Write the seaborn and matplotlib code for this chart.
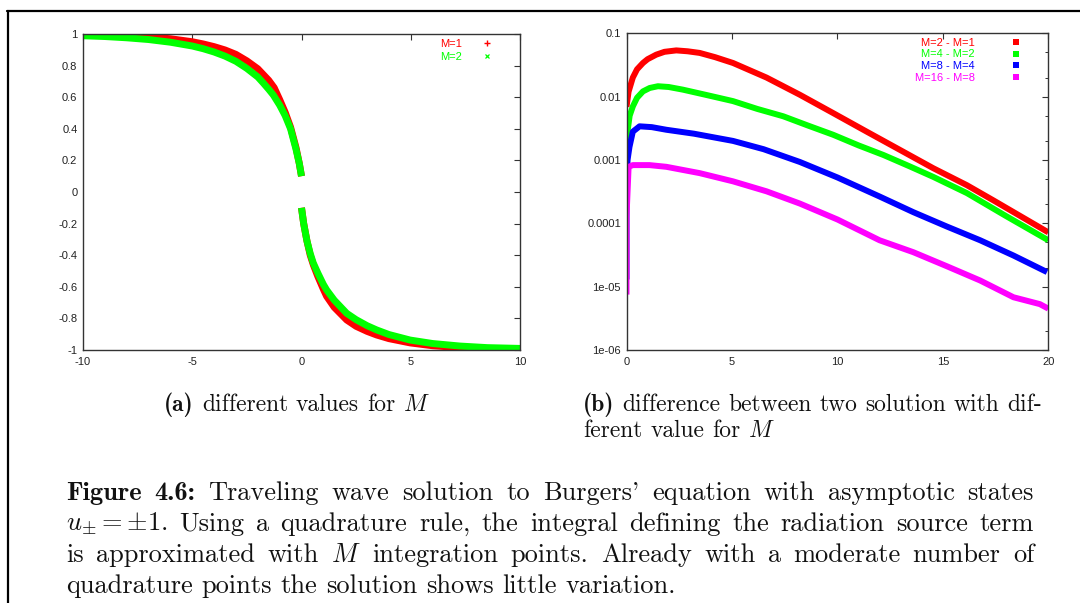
import numpy as np
import pandas as pd
import matplotlib
matplotlib.use("Agg")
import matplotlib.pyplot as plt
from matplotlib.lines import Line2D
from matplotlib import ticker
import seaborn as sns

# ---------------- data ----------------
# (a) traveling wave profiles u(x) for two quadrature sizes (two branches each, gap at x=0)
x_m1_left = [-10, -9, -8, -7, -6, -5, -4.5, -4, -3.5, -3, -2.5, -2, -1.5, -1.25, -1,
             -0.75, -0.5, -0.25, -0.1, 0.0]
u_m1_left = [0.996, 0.993, 0.989, 0.982, 0.970, 0.951, 0.937, 0.920, 0.899, 0.871, 0.830,
             0.780, 0.707, 0.660, 0.585, 0.505, 0.41, 0.28, 0.18, 0.10]
x_m1_right = [0.0, 0.1, 0.25, 0.4, 0.54, 0.75, 1.0, 1.15, 1.5, 2.07, 2.5, 3.0, 3.44, 4.0,
              4.97, 6.0, 7.25, 8.5, 10.0]
u_m1_right = [-0.10, -0.20, -0.31, -0.40, -0.46, -0.535, -0.615, -0.66, -0.73, -0.81,
              -0.85, -0.882, -0.905, -0.928, -0.955, -0.973, -0.985, -0.993, -0.998]

x_m2_left = [-10, -9, -8, -7, -6, -5, -4.5, -4, -3.5, -3, -2.5, -2, -1.75, -1.5, -1.29,
             -1, -0.75, -0.5, -0.25, -0.1, 0.0]
u_m2_left = [0.989, 0.984, 0.976, 0.965, 0.948, 0.924, 0.907, 0.886, 0.860, 0.827, 0.782,
             0.728, 0.69, 0.65, 0.614, 0.55, 0.484, 0.40, 0.27, 0.18, 0.10]
x_m2_right = [0.0, 0.1, 0.25, 0.4, 0.54, 0.75, 1.0, 1.15, 1.5, 2.07, 2.5, 3.0, 3.44, 4.0,
              4.97, 6.0, 7.25, 8.5, 10.0]
u_m2_right = [-0.10, -0.20, -0.31, -0.39, -0.45, -0.514, -0.585, -0.62, -0.685, -0.768,
              -0.808, -0.846, -0.873, -0.902, -0.937, -0.959, -0.975, -0.985, -0.99]

# (b) absolute difference between successive quadrature sizes
x_d21 = [0.0, 0.1, 0.3, 0.5, 0.78, 1.0, 1.41, 1.8, 2.36, 2.9, 3.47, 4.2, 5.05, 6.64, 8.22,
         9.8, 11.39, 12.97, 14.55, 16.14, 17.4, 20.0]
d_21 = [0.0069, 0.012, 0.020, 0.027, 0.034, 0.039, 0.046, 0.051, 0.0537, 0.052, 0.049,
        0.042, 0.034, 0.020, 0.0107, 0.0055, 0.0028, 0.00144, 7.4e-4, 4.0e-4, 2.3e-4, 7.2e-5]
x_d42 = [0.0, 0.06, 0.15, 0.3, 0.5, 0.78, 1.1, 1.49, 2.0, 2.67, 3.8, 5.05, 6.2, 7.43, 8.6,
         9.8, 11.0, 12.18, 13.4, 14.55, 16.14, 18.0, 20.0]
d_42 = [8.3e-4, 0.0030, 0.0050, 0.0070, 0.0096, 0.0121, 0.0137, 0.0146, 0.0142, 0.0129,
        0.0106, 0.0085, 0.0064, 0.0049, 0.0035, 0.0025, 0.0017, 0.0012, 8.0e-4, 5.4e-4,
        3.0e-4, 1.3e-4, 5.4e-5]
x_d84 = [0.0, 0.0, 0.05, 0.14, 0.3, 0.62, 1.2, 1.89, 3.2, 5.05, 6.5, 8.22, 10.0, 12.0,
         13.6, 15.19, 16.77, 18.35, 19.94]
d_84 = [1.3e-5, 3.8e-4, 0.0010, 0.0016, 0.0028, 0.0034, 0.0033, 0.0030, 0.0026, 0.0020,
        1.48e-3, 9.3e-4, 5.3e-4, 2.65e-4, 1.5e-4, 8.9e-5, 5.4e-5, 3.1e-5, 1.7e-5]
x_d168 = [0.0, 0.0, 0.1, 0.3, 1.09, 1.89, 3.47, 5.05, 6.64, 8.22, 10.0, 12.0, 13.6, 15.19,
          16.77, 18.35, 19.6, 20.0]
d_168 = [7.5e-6, 1.26e-4, 7.8e-4, 8.3e-4, 8.3e-4, 7.8e-4, 6.2e-4, 4.6e-4, 3.2e-4, 2.05e-4,
         1.15e-4, 5.4e-5, 3.5e-5, 2.1e-5, 1.25e-5, 6.8e-6, 5.3e-6, 4.5e-6]

labels_a = ["M=1", "M=2"]
labels_b = ["M=2 - M=1", "M=4 - M=2", "M=8 - M=4", "M=16 - M=8"]
colors_a = ["#ff0000", "#00ff00"]
colors_b = ["#ff0000", "#00ff00", "#0000ff", "#ff00ff"]

yticks_a = [-1.0, -0.8, -0.6, -0.4, -0.2, 0.0, 0.2, 0.4, 0.6, 0.8, 1.0]
yticklabels_a = ["-1", "-0.8", "-0.6", "-0.4", "-0.2", "0", "0.2", "0.4", "0.6", "0.8", "1"]
xticks_a = [-10, -5, 0, 5, 10]
yticks_b = [1e-6, 1e-5, 1e-4, 1e-3, 1e-2, 1e-1]
yticklabels_b = ["1e-06", "1e-05", "0.0001", "0.001", "0.01", "0.1"]
xticks_b = [0, 5, 10, 15, 20]

# ---------------- figure ----------------
sns.set_theme(style="white")
plt.rcParams["font.family"] = ["Liberation Sans", "DejaVu Sans"]
plt.rcParams["mathtext.fontset"] = "cm"

W, H = 1080, 603
fig = plt.figure(figsize=(W / 100, H / 100), dpi=100)
fig.patch.set_facecolor("white")


def fx(px):
    return px / W


def fy(py):
    return 1 - py / H


axA = fig.add_axes([fx(83), fy(350), fx(520) - fx(83), fy(34) - fy(350)])
axB = fig.add_axes([fx(626.5), fy(350), fx(1048.3) - fx(626.5), fy(33.3) - fy(350)])

# panel (a)
rows = []
for lab, xl, ul, xr, ur in [("M=1", x_m1_left, u_m1_left, x_m1_right, u_m1_right),
                            ("M=2", x_m2_left, u_m2_left, x_m2_right, u_m2_right)]:
    rows += [dict(M=lab, branch=0, x=a, u=b) for a, b in zip(xl, ul)]
    rows += [dict(M=lab, branch=1, x=a, u=b) for a, b in zip(xr, ur)]
dfA = pd.DataFrame(rows)
for lab, col in zip(labels_a, colors_a):
    sns.lineplot(data=dfA[dfA.M == lab], x="x", y="u", units="branch", estimator=None,
                 sort=False, color=col, lw=5, ax=axA, legend=False,
                 solid_capstyle="butt", solid_joinstyle="round")

# panel (b)
rowsB = []
for lab, xs, ds in zip(labels_b, [x_d21, x_d42, x_d84, x_d168], [d_21, d_42, d_84, d_168]):
    rowsB += [dict(pair=lab, x=a, d=b) for a, b in zip(xs, ds)]
dfB = pd.DataFrame(rowsB)
sns.lineplot(data=dfB, x="x", y="d", hue="pair", hue_order=labels_b, palette=colors_b,
             estimator=None, sort=False, lw=4.3, ax=axB, legend=False,
             solid_capstyle="butt", solid_joinstyle="round")

# axes styling
for ax in (axA, axB):
    ax.set_xlabel("")
    ax.set_ylabel("")
    ax.set_facecolor("white")
    for sp in ax.spines.values():
        sp.set_color("#333333")
        sp.set_linewidth(1.0)
        sp.set_visible(True)
    ax.tick_params(which="both", direction="in", top=True, right=True,
                   color="#333333", labelcolor="#222222", labelsize=8)
    ax.tick_params(which="major", length=4.5, width=0.8)
    ax.tick_params(axis="x", pad=5)
    ax.tick_params(axis="y", pad=4)
    ax.grid(False)

axA.set_xlim(-10, 10)
axA.set_ylim(-1, 1)
axA.set_xticks(xticks_a)
axA.set_xticklabels([str(v) for v in xticks_a])
axA.set_yticks(yticks_a)
axA.set_yticklabels(yticklabels_a)

axB.set_yscale("log")
axB.set_xlim(0, 20)
axB.set_ylim(1e-6, 0.1)
axB.set_xticks(xticks_b)
axB.set_xticklabels([str(v) for v in xticks_b])
axB.yaxis.set_major_locator(ticker.FixedLocator(yticks_b))
axB.yaxis.set_major_formatter(ticker.FixedFormatter(yticklabels_b))
axB.yaxis.set_minor_locator(ticker.LogLocator(base=10, subs=(2.0, 5.0)))
axB.yaxis.set_minor_formatter(ticker.NullFormatter())
axB.tick_params(which="minor", length=2.5, width=0.7)

# legends
hA = [Line2D([], [], ls="none", marker="+", ms=4, mew=1.0, color=colors_a[0]),
      Line2D([], [], ls="none", marker="x", ms=3, mew=0.9, color=colors_a[1])]
axA.legend(hA, labels_a, loc="upper right", bbox_to_anchor=(0.938, 0.984),
           frameon=False, markerfirst=False, fontsize=8, borderpad=0,
           borderaxespad=0, handlelength=1.0, handletextpad=1.8,
           labelspacing=0.25, labelcolor=colors_a)
hB = [Line2D([], [], ls="none", marker="s", ms=4, mew=0, color=c) for c in colors_b]
axB.legend(hB, labels_b, loc="upper right", bbox_to_anchor=(0.937, 0.986),
           frameon=False, markerfirst=False, fontsize=8, borderpad=0,
           borderaxespad=0, handlelength=1.0, handletextpad=3.2,
           labelspacing=0.15, labelcolor=colors_b)

# ---------------- captions ----------------
renderer = fig.canvas.get_renderer()
ROMAN = "cmr10"
BOLD = "cmb10"


def word_width(word, size, family):
    t = fig.text(0, 0, word, fontsize=size, fontfamily=family)
    w = t.get_window_extent(renderer).width
    t.remove()
    return w


def space_width(size):
    return word_width("a a", size, ROMAN) - word_width("aa", size, ROMAN)


def natural_width(words, size):
    return sum(word_width(w, size, f) for w, f in words) + (len(words) - 1) * space_width(size)


def draw_line(words, x0, baseline, size, x1=None, ha="left"):
    """words: list of (text, family); justified between x0 and x1 if given."""
    widths = [word_width(w, size, f) for w, f in words]
    if x1 is not None and len(words) > 1:
        gap = (x1 - x0 - sum(widths)) / (len(words) - 1)
    else:
        gap = space_width(size)
    total = sum(widths) + gap * (len(words) - 1)
    x = x0 - total / 2 if ha == "center" else x0
    for (w, f), wd in zip(words, widths):
        fig.text(fx(x), fy(baseline), w, fontsize=size, fontfamily=f,
                 va="baseline", ha="left", color="#111111")
        x += wd + gap


def split(text, family=ROMAN):
    return [(w, family) for w in text.split(" ")]


line1 = [("Figure", BOLD), ("4.6:", BOLD)] + split(
    "Traveling wave solution to Burgers' equation with asymptotic states")
line2 = [(r"$u_{\pm}=\pm1$.", ROMAN)] + split(
    "Using a quadrature rule, the integral defining the radiation source term")
line3 = split("is approximated with") + [("$M$", ROMAN)] + split(
    "integration points. Already with a moderate number of")
line4 = split("quadrature points the solution shows little variation.")

sub_a = [("(a)", BOLD)] + split("different values for") + [("$M$", ROMAN)]
sub_b1 = [("(b)", BOLD)] + split("difference between two solution with dif-")
sub_b2 = split("ferent value for") + [("$M$", ROMAN)]

# font sizes from the measured widths of unjustified / justified lines
cap_size = 10 * 610 / natural_width(line4, 10)
sub_size = 10 * 458 / natural_width(sub_b1, 10)

draw_line(sub_a, 297, 411, sub_size, ha="center")
draw_line(sub_b1, 583, 411, sub_size, x1=1042)
draw_line(sub_b2, 583, 437, sub_size)

draw_line(line1, 66, 500, cap_size, x1=1034)
draw_line(line2, 66, 531, cap_size, x1=1034)
draw_line(line3, 66, 562, cap_size, x1=1034)
draw_line(line4, 66, 593, cap_size)

# frame around the figure block
fig.add_artist(Line2D([fx(7), fx(W + 5)], [fy(11), fy(11)], color="black", lw=1.6,
                      transform=fig.transFigure))
fig.add_artist(Line2D([fx(7.5), fx(7.5)], [fy(11), fy(H + 5)], color="black", lw=1.6,
                      transform=fig.transFigure))

fig.savefig("out.png", dpi=100, facecolor="white")
